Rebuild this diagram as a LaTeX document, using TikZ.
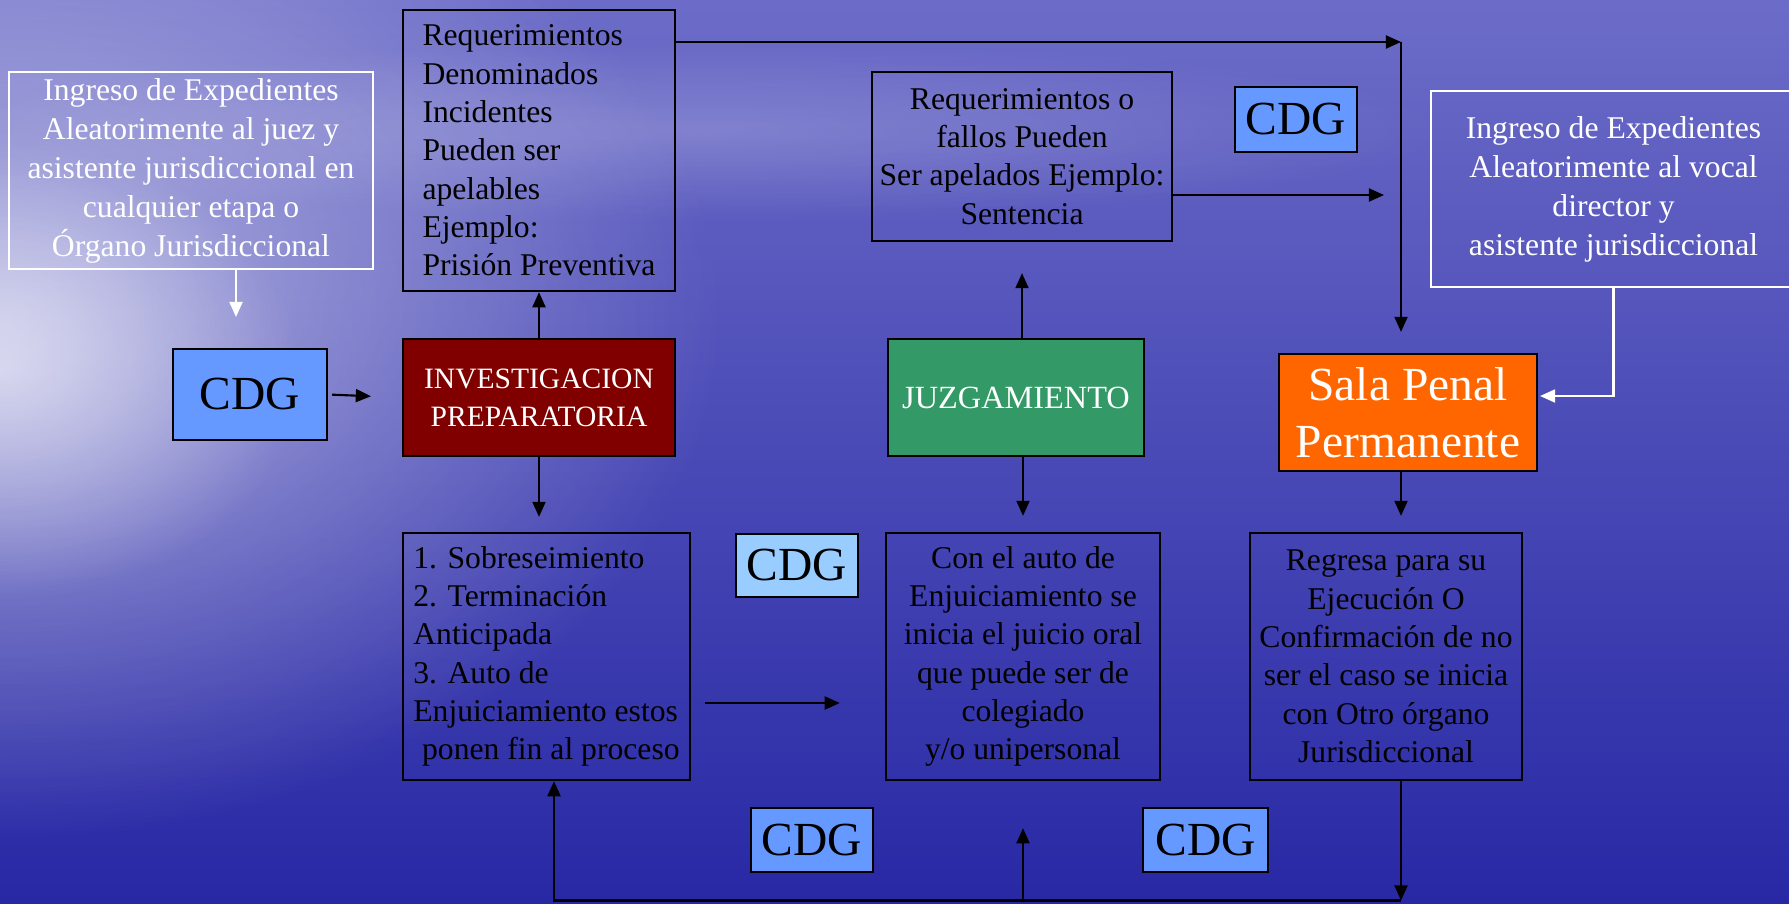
\documentclass[tikz,border=0pt]{standalone}
\usepackage{fontspec}
\setmainfont{Liberation Serif}
\usetikzlibrary{arrows.meta,fadings}
\definecolor{bgtop}{RGB}{108,108,200}
\definecolor{bgmid}{RGB}{78,78,186}
\definecolor{bgbot}{RGB}{40,40,165}
\definecolor{cdgblue}{RGB}{102,153,255}
\definecolor{cdglight}{RGB}{153,204,255}
\definecolor{investred}{RGB}{128,0,0}
\definecolor{juzggreen}{RGB}{51,153,102}
\definecolor{salaorange}{RGB}{255,102,0}
\tikzfading[name=glowfade,inner color=transparent!0,outer color=transparent!100]
\begin{document}
\begin{tikzpicture}[x=0.01cm,y=-0.01cm,
	box/.style={draw=black,line width=0.6pt,inner sep=0pt,align=center,font=\fontsize{9}{10.9}\selectfont},
	whitebox/.style={draw=white,line width=0.7pt,inner sep=0pt,align=center,text=white,font=\fontsize{9}{11.1}\selectfont},
	cdgbox/.style={box,fill=cdgblue,font=\fontsize{13.5}{16}\selectfont},
	stagebox/.style={box,text=white},
	arr/.style={-{Triangle[length=4.3pt,width=3.7pt]},line width=0.6pt},
	whitearr/.style={arr,white}]
	\useasboundingbox (0,0) rectangle (1789,903);
	\shade[top color=bgtop,middle color=bgmid,bottom color=bgbot] (0,0) rectangle (1789,903);
	\fill[white,path fading=glowfade,opacity=0.55] (0,320) ellipse (720 and 520);
	\fill[white,path fading=glowfade,opacity=0.55] (0,370) ellipse (300 and 230);
	\fill[white,path fading=glowfade,opacity=0.2] (700,130) ellipse (750 and 90);

	\node[whitebox,minimum width=3.64cm,minimum height=1.97cm] (ingresoA) at (191,170.5) {Ingreso de Expedientes\\Aleatorimente al juez y\\asistente jurisdiccional en\\cualquier etapa o\\Órgano Jurisdiccional};
	\node[cdgbox,minimum width=1.54cm,minimum height=0.91cm] (cdgA) at (250,394.5) {CDG};
	\node[box,align=left,minimum width=2.72cm,minimum height=2.81cm] (req) at (539,150.5) {Requerimientos\\Denominados\\Incidentes\\Pueden ser\\apelables\\Ejemplo:\\Prisión Preventiva};
	\node[stagebox,fill=investred,minimum width=2.72cm,minimum height=1.17cm,font=\fontsize{8.4}{10.8}\selectfont] (invest) at (539,397.5) {INVESTIGACION\\PREPARATORIA};
	\node[box,minimum width=3cm,minimum height=1.69cm] (fallos) at (1022,156.5) {Requerimientos o\\fallos Pueden\\Ser apelados Ejemplo:\\Sentencia};
	\node[cdgbox,minimum width=1.22cm,minimum height=0.65cm] (cdgB) at (1296,119.5) {CDG};
	\node[stagebox,fill=juzggreen,minimum width=2.56cm,minimum height=1.17cm,font=\fontsize{9.2}{11}\selectfont] (juzg) at (1016,397.5) {JUZGAMIENTO};
	\node[stagebox,fill=salaorange,minimum width=2.58cm,minimum height=1.17cm,font=\fontsize{13.5}{16.2}\selectfont] (sala) at (1408,412.5) {Sala Penal\\Permanente};
	\node[whitebox,minimum width=3.65cm,minimum height=1.96cm] (ingresoB) at (1613.5,189) {Ingreso de Expedientes\\Aleatorimente al vocal\\director y\\asistente jurisdiccional};
	\node[box,align=left,minimum width=2.87cm,minimum height=2.47cm] (sobre) at (546.5,656.5) {1. Sobreseimiento\\2. Terminación\\Anticipada\\3. Auto de\\Enjuiciamiento estos\\\hspace*{2.5pt}ponen fin al proceso};
	\node[cdgbox,fill=cdglight,minimum width=1.22cm,minimum height=0.63cm] (cdgC) at (797,565.5) {CDG};
	\node[box,minimum width=2.74cm,minimum height=2.47cm] (auto) at (1023,656.5) {Con el auto de\\Enjuiciamiento se\\inicia el juicio oral\\que puede ser de\\colegiado\\y/o unipersonal};
	\node[box,minimum width=2.72cm,minimum height=2.47cm] (regresa) at (1386,656.5) {Regresa para su\\Ejecución O\\Confirmación de no\\ser el caso se inicia\\con Otro órgano\\Jurisdiccional};
	\node[cdgbox,minimum width=1.22cm,minimum height=0.64cm] (cdgD) at (812,840) {CDG};
	\node[cdgbox,minimum width=1.25cm,minimum height=0.64cm] (cdgE) at (1205.5,840) {CDG};

	\coordinate (arrA) at (236,317);
	\coordinate (corner) at (1401,42);
	\coordinate (fallosOut) at (1384,195);
	\coordinate (salaIn) at (1540,396);
	\coordinate (sobreOut) at (705,703);
	\coordinate (base) at (1401,900.5);
	\coordinate (retorno) at (554,900.5);

	\draw[whitearr] (ingresoA.south -| arrA) -- (arrA);
	\draw[arr,shorten <=0.04cm,shorten >=0.31cm] (cdgA.east) -- (invest.west);
	\draw[arr] (invest.north) -- (req.south);
	\draw[arr] (req.east |- corner) -- (corner);
	\draw[arr,shorten >=0.21cm] (corner) -- (corner |- sala.north);
	\draw[arr] (fallos.east |- fallosOut) -- (fallosOut);
	\draw[arr,shorten >=0.31cm] (juzg.north -| fallos.south) -- (fallos.south);
	\draw[whitearr] (ingresoB.south) |- (salaIn);
	\draw[arr,shorten >=0.15cm] (invest.south) -- (invest.south |- sobre.north);
	\draw[arr,shorten >=0.16cm] (juzg.south -| auto.north) -- (auto.north);
	\draw[arr,shorten >=0.16cm] (sala.south -| corner) -- (regresa.north -| corner);
	\draw[arr,shorten >=0.45cm] (sobreOut) -- (sobreOut -| auto.west);
	\draw[arr] (regresa.south -| base) -- (base);
	\draw[arr] (base) -- (retorno) -- (retorno |- sobre.south);
	\draw[arr,shorten >=0.47cm] (retorno -| auto.south) -- (auto.south);
\end{tikzpicture}
\end{document}
